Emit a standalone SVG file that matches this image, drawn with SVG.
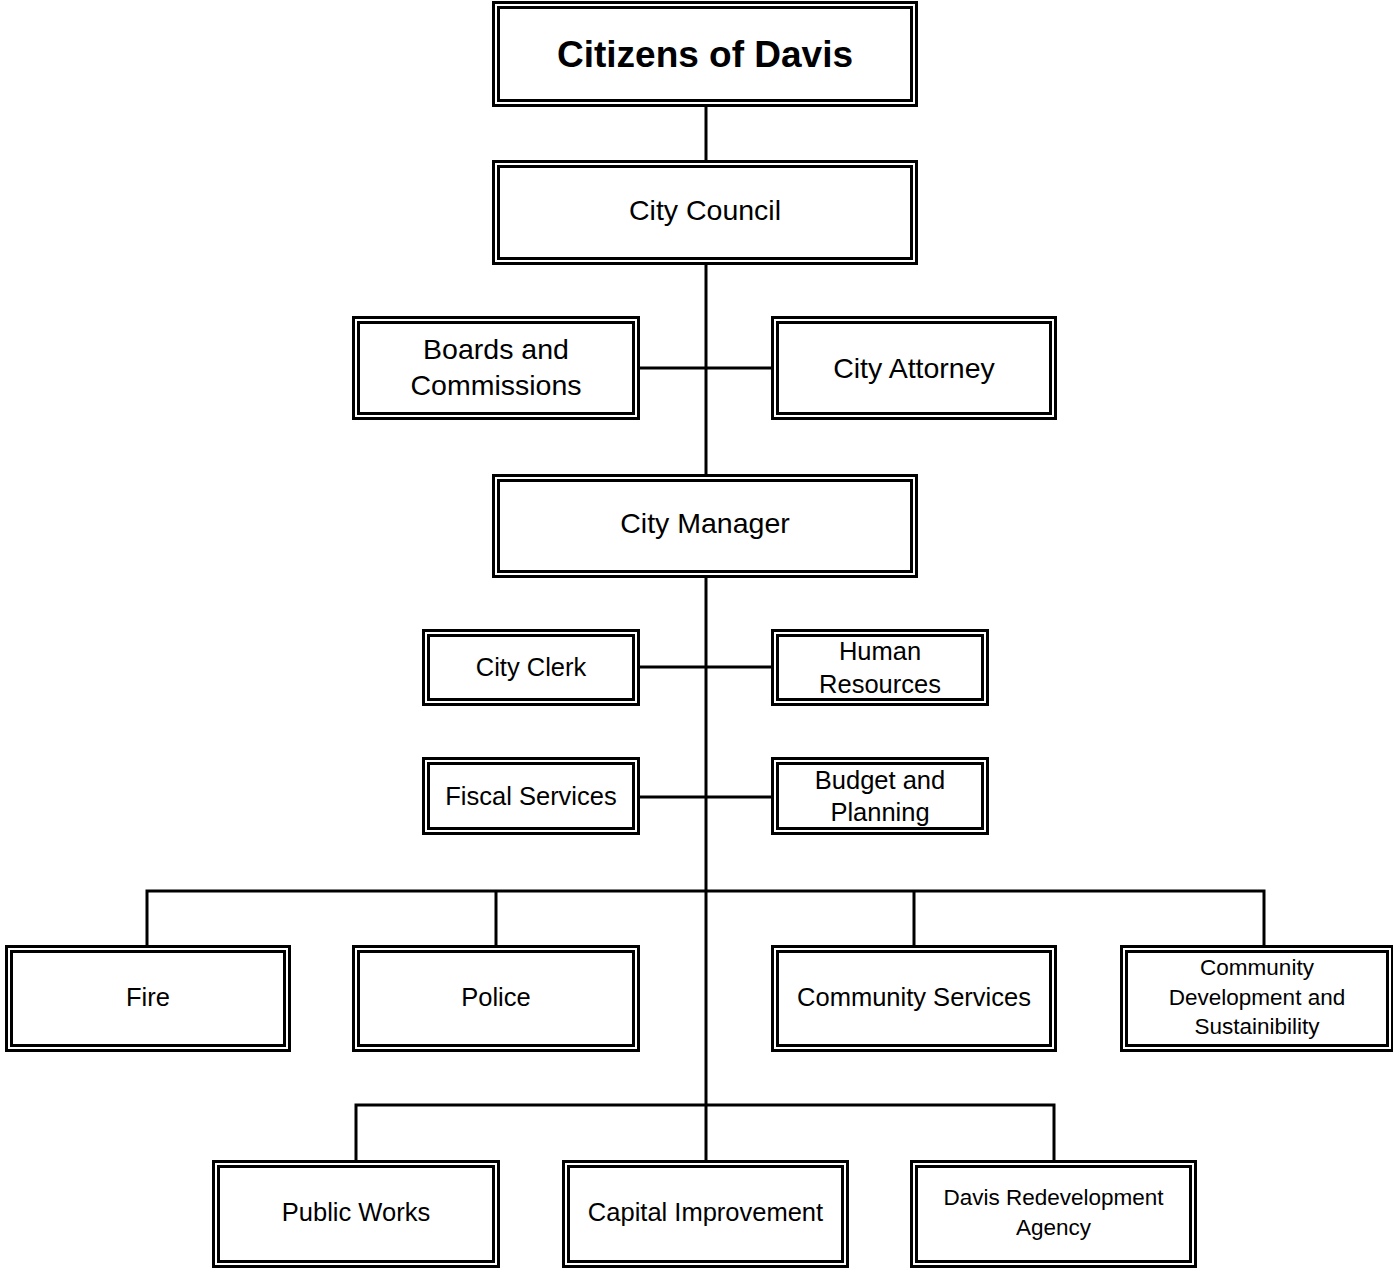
<svg xmlns="http://www.w3.org/2000/svg" width="1393" height="1268" viewBox="0 0 1393 1268">
<style>
.o{fill:#fff;stroke:#000;stroke-width:3}
.i{fill:none;stroke:#000;stroke-width:3}
.c{fill:none;stroke:#000;stroke-width:3}
text{font-family:"Liberation Sans",Arial,sans-serif;fill:#000;text-anchor:middle}
.t1{font-size:37px;font-weight:bold}
.t2{font-size:28.5px}
.t3{font-size:25.5px}
.t4{font-size:22.5px}
</style>
<rect width="1393" height="1268" fill="#fff"/>
<g id="connectors">
<path class="c" d="M706 107V1160"/>
<path class="c" d="M640 368H771M640 667H771M640 797H771"/>
<path class="c" d="M147 945V891H1264V945M496 891V945M914 891V945"/>
<path class="c" d="M356 1160V1105H1054V1160"/>
</g>
<g id="citizens"><rect class="o" x="493.5" y="2.5" width="423" height="103"/><rect class="i" x="498.5" y="7.5" width="413" height="93"/><text class="t1" x="705" y="67">Citizens of Davis</text></g>
<g id="council"><rect class="o" x="493.5" y="161.5" width="423" height="102"/><rect class="i" x="498.5" y="166.5" width="413" height="92"/><text class="t2" x="705" y="220">City Council</text></g>
<g id="boards"><rect class="o" x="353.5" y="317.5" width="285" height="101"/><rect class="i" x="358.5" y="322.5" width="275" height="91"/><text class="t2" x="496" y="359">Boards and</text><text class="t2" x="496" y="395">Commissions</text></g>
<g id="attorney"><rect class="o" x="772.5" y="317.5" width="283" height="101"/><rect class="i" x="777.5" y="322.5" width="273" height="91"/><text class="t2" x="914" y="378">City Attorney</text></g>
<g id="manager"><rect class="o" x="493.5" y="475.5" width="423" height="101"/><rect class="i" x="498.5" y="480.5" width="413" height="91"/><text class="t2" x="705" y="533">City Manager</text></g>
<g id="clerk"><rect class="o" x="423.5" y="630.5" width="215" height="74"/><rect class="i" x="428.5" y="635.5" width="205" height="64"/><text class="t3" x="531" y="676">City Clerk</text></g>
<g id="hr"><rect class="o" x="772.5" y="630.5" width="215" height="74"/><rect class="i" x="777.5" y="635.5" width="205" height="64"/><text class="t3" x="880" y="660">Human</text><text class="t3" x="880" y="693">Resources</text></g>
<g id="fiscal"><rect class="o" x="423.5" y="758.5" width="215" height="75"/><rect class="i" x="428.5" y="763.5" width="205" height="65"/><text class="t3" x="531" y="805">Fiscal Services</text></g>
<g id="budget"><rect class="o" x="772.5" y="758.5" width="215" height="75"/><rect class="i" x="777.5" y="763.5" width="205" height="65"/><text class="t3" x="880" y="789">Budget and</text><text class="t3" x="880" y="821">Planning</text></g>
<g id="fire"><rect class="o" x="6.5" y="946.5" width="283" height="104"/><rect class="i" x="11.5" y="951.5" width="273" height="94"/><text class="t3" x="148" y="1006">Fire</text></g>
<g id="police"><rect class="o" x="353.5" y="946.5" width="285" height="104"/><rect class="i" x="358.5" y="951.5" width="275" height="94"/><text class="t3" x="496" y="1006">Police</text></g>
<g id="commserv"><rect class="o" x="772.5" y="946.5" width="283" height="104"/><rect class="i" x="777.5" y="951.5" width="273" height="94"/><text class="t3" x="914" y="1006">Community Services</text></g>
<g id="commdev"><rect class="o" x="1121.5" y="946.5" width="271" height="104"/><rect class="i" x="1126.5" y="951.5" width="261" height="94"/><text class="t4" x="1257" y="975">Community</text><text class="t4" x="1257" y="1005">Development and</text><text class="t4" x="1257" y="1034">Sustainibility</text></g>
<g id="publicworks"><rect class="o" x="213.5" y="1161.5" width="285" height="105"/><rect class="i" x="218.5" y="1166.5" width="275" height="95"/><text class="t3" x="356" y="1221">Public Works</text></g>
<g id="capital"><rect class="o" x="563.5" y="1161.5" width="284" height="105"/><rect class="i" x="568.5" y="1166.5" width="274" height="95"/><text class="t3" x="705.5" y="1221">Capital Improvement</text></g>
<g id="rda"><rect class="o" x="911.5" y="1161.5" width="284" height="105"/><rect class="i" x="916.5" y="1166.5" width="274" height="95"/><text class="t4" x="1053.5" y="1205">Davis Redevelopment</text><text class="t4" x="1053.5" y="1235">Agency</text></g>
</svg>
